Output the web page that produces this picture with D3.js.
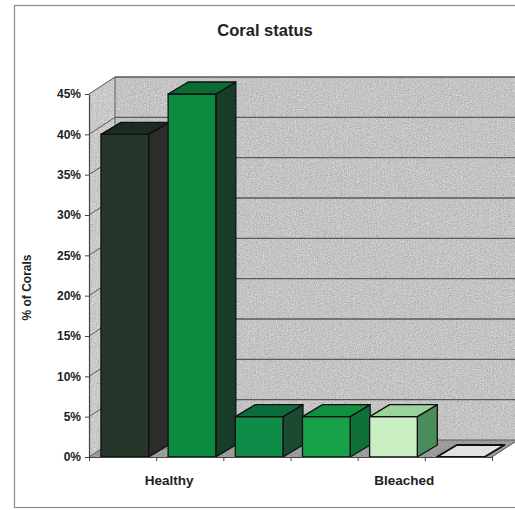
<!DOCTYPE html>
<html>
<head>
<meta charset="utf-8">
<script src="https://cdn.jsdelivr.net/npm/d3@7/dist/d3.min.js"></script>
<style>
  html, body { margin: 0; padding: 0; background: #ffffff; }
  svg { display: block; font-family: "Liberation Sans", Arial, sans-serif; }
</style>
</head>
<body>
<svg id="chart" width="515" height="510"></svg>
<script>
// Share of corals in each status class (fraction of all corals surveyed)
const barValues = [0.40, 0.45, 0.05, 0.05, 0.05, 0.00];
// Category labels and the bars each one sits under
const groupLabels = ["Healthy", "Bleached"];
const groupFirstBar = [0, 4];
const groupLastBar = [1, 4];
// Value-axis ticks
const yTickValues = [0, 0.05, 0.10, 0.15, 0.20, 0.25, 0.30, 0.35, 0.40, 0.45];

// Face colours per bar: front, top, side
const barFront = ["#26362b", "#0b8b3f", "#0e8c48", "#17a24a", "#c9efc3", "#e2e2e2"];
const barTop   = ["#1d2a22", "#0a6c33", "#0c6e3c", "#11903f", "#9bd49b", "#e2e2e2"];
const barSide  = ["#2a2d2a", "#173d29", "#1a4a33", "#10703a", "#4b8c5a", "#e2e2e2"];

const svg = d3.select("#chart");

// Plot geometry (front plane and oblique depth offset)
const x0 = 89, x1 = 492, yBottom = 457, yTop = 94;
const depthX = 26, depthY = -17;          // wall depth
const barDX = 20, barDY = -12;            // bar depth

const y = d3.scaleLinear().domain([0, 0.45]).range([yBottom, yTop]);
const slot = d3.scaleBand().domain(d3.range(barValues.length)).range([x0, x1]).padding(0);
const slotEdge = d3.scaleLinear().domain([0, barValues.length]).range([x0, x1]);
const barOffset = slot.bandwidth() * 0.178;
const barWidth = slot.bandwidth() * 0.71;

// Granite-like grain for the walls and floor
const defs = svg.append("defs");
const grain = defs.append("filter").attr("id", "grain")
  .attr("x", 0).attr("y", 0).attr("width", 1).attr("height", 1)
  .attr("color-interpolation-filters", "sRGB");
grain.append("feTurbulence").attr("type", "fractalNoise")
  .attr("baseFrequency", 0.85).attr("numOctaves", 2).attr("seed", 3).attr("result", "noise");
grain.append("feColorMatrix").attr("in", "noise").attr("type", "matrix")
  .attr("values", "0.33 0.33 0.33 0 0  0.33 0.33 0.33 0 0  0.33 0.33 0.33 0 0  0 0 0 0 1")
  .attr("result", "grey");
grain.append("feComposite").attr("in", "SourceGraphic").attr("in2", "grey")
  .attr("operator", "arithmetic").attr("k1", 0).attr("k2", 1).attr("k3", 0.5).attr("k4", -0.25)
  .attr("result", "mix");
grain.append("feComposite").attr("in", "mix").attr("in2", "SourceGraphic").attr("operator", "in");

// Chart frame
svg.append("rect")
  .attr("x", 14.5).attr("y", 5.5).attr("width", 540).attr("height", 502)
  .attr("fill", "#ffffff").attr("stroke", "#8a8a8a").attr("stroke-width", 1.2);

// Title
svg.append("text")
  .attr("x", 265).attr("y", 36)
  .attr("text-anchor", "middle")
  .attr("font-size", 16.5).attr("font-weight", "bold").attr("fill", "#222")
  .text("Coral status");

const poly = pts => "M" + pts.map(p => p.join(",")).join("L") + "Z";
const walls = svg.append("g");

// Back wall
walls.append("path")
  .attr("d", poly([[x0 + depthX, y(0.45) + depthY], [560, y(0.45) + depthY],
                   [560, yBottom + depthY], [x0 + depthX, yBottom + depthY]]))
  .attr("fill", "#c4c4c4").attr("filter", "url(#grain)");
// Side wall
walls.append("path")
  .attr("d", poly([[x0, yBottom], [x0, y(0.45)], [x0 + depthX, y(0.45) + depthY], [x0 + depthX, yBottom + depthY]]))
  .attr("fill", "#cacaca").attr("filter", "url(#grain)");
// Floor
walls.append("path")
  .attr("d", poly([[x0, yBottom], [x1, yBottom], [x1 + depthX, yBottom + depthY], [x0 + depthX, yBottom + depthY]]))
  .attr("fill", "#9c9c9c").attr("filter", "url(#grain)");

// Gridlines: across the back wall and diagonally along the side wall
const grid = svg.append("g").attr("stroke", "#5a5a5a").attr("fill", "none");
grid.selectAll("line.back").data(yTickValues).join("line")
  .attr("class", "back")
  .attr("x1", x0 + depthX).attr("x2", 560)
  .attr("y1", d => y(d) + depthY).attr("y2", d => y(d) + depthY)
  .attr("stroke-width", d => d === 0 ? 1 : 1.4);
grid.selectAll("line.side").data(yTickValues).join("line")
  .attr("class", "side")
  .attr("x1", x0).attr("x2", x0 + depthX)
  .attr("y1", d => y(d)).attr("y2", d => y(d) + depthY)
  .attr("stroke-width", 1);
// Back-left corner edge
grid.append("line")
  .attr("x1", x0 + depthX).attr("x2", x0 + depthX)
  .attr("y1", y(0.45) + depthY).attr("y2", yBottom + depthY)
  .attr("stroke-width", 1);
// Floor back-right edge
grid.append("line")
  .attr("x1", x1).attr("y1", yBottom)
  .attr("x2", x1 + depthX).attr("y2", yBottom + depthY)
  .attr("stroke-width", 1);

// Bars: front, side and top faces
const bars = svg.append("g").attr("stroke", "#111").attr("stroke-width", 1.3).attr("stroke-linejoin", "round");
barValues.forEach((v, i) => {
  const L = slot(i) + barOffset, R = L + barWidth;
  const T = y(v), B = y(0);
  const g = bars.append("g");
  if (v > 0) {
    g.append("path").attr("fill", barSide[i])
      .attr("d", poly([[R, B], [R, T], [R + barDX, T + barDY], [R + barDX, B + barDY]]));
    g.append("path").attr("fill", barFront[i])
      .attr("d", poly([[L, B], [R, B], [R, T], [L, T]]));
  }
  g.append("path").attr("fill", barTop[i])
    .attr("stroke-width", v > 0 ? 1.3 : 2)
    .attr("d", poly([[L, T], [R, T], [R + barDX, T + barDY], [L + barDX, T + barDY]]));
});

// Value axis
const yAxis = svg.append("g")
  .attr("transform", `translate(${x0},0)`)
  .call(d3.axisLeft(y).tickValues(yTickValues).tickFormat(d3.format(".0%")).tickSize(4).tickSizeOuter(0));
yAxis.select(".domain").attr("stroke", "#444").attr("stroke-width", 1.2);
yAxis.selectAll(".tick line").attr("stroke", "#444");
yAxis.selectAll(".tick text")
  .attr("x", -8)
  .attr("font-family", "'Liberation Sans', Arial, sans-serif")
  .attr("font-size", 12).attr("font-weight", "bold").attr("fill", "#222");

// Category axis
const xAxis = svg.append("g")
  .attr("transform", `translate(0,${yBottom})`)
  .call(d3.axisBottom(slotEdge).tickValues(d3.range(barValues.length + 1)).tickFormat("").tickSize(4).tickSizeOuter(0));
xAxis.select(".domain").attr("stroke", "#444").attr("stroke-width", 1.2);
xAxis.selectAll(".tick line").attr("stroke", "#444");

svg.append("g").selectAll("text").data(groupLabels).join("text")
  .attr("x", (d, i) => (slot(groupFirstBar[i]) + slot(groupLastBar[i]) + slot.bandwidth()) / 2 + depthX / 2)
  .attr("y", 485)
  .attr("text-anchor", "middle")
  .attr("font-size", 13.5).attr("font-weight", "bold").attr("fill", "#222")
  .text(d => d);

// Value-axis title
svg.append("text")
  .attr("transform", `translate(31,${(yTop + yBottom) / 2 + 12}) rotate(-90)`)
  .attr("text-anchor", "middle")
  .attr("font-size", 12).attr("font-weight", "bold").attr("fill", "#222")
  .text("% of Corals");
</script>
</body>
</html>
